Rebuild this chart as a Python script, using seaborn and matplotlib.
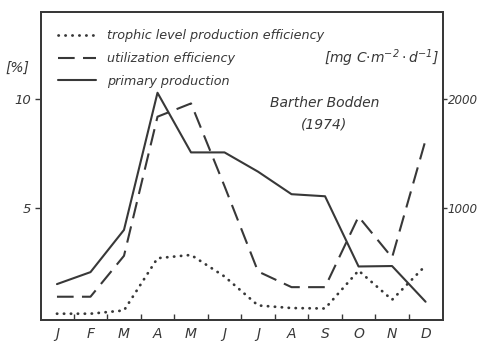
import matplotlib
matplotlib.use("Agg")
import matplotlib.pyplot as plt
import seaborn as sns
import numpy as np
import pandas as pd

months = ["J", "F", "M", "A", "M", "J", "J", "A", "S", "O", "N", "D"]
trophic_eff = [0.14, 0.14, 0.29, 2.69, 2.84, 1.85, 0.52, 0.40, 0.38, 2.12, 0.78, 2.35]
utilization_eff = [0.92, 0.92, 2.80, 9.19, 9.80, 6.0, 2.08, 1.36, 1.36, 4.60, 2.72, 8.12]
primary_prod = [300, 410, 798, 2058, 1510, 1510, 1333, 1126, 1107, 462, 466, 138]

sns.set_style("ticks")
plt.rcParams["font.family"] = ["DejaVu Sans"]
plt.rcParams["font.style"] = "italic"

ink = "#383838"
fig = plt.figure(figsize=(4.81, 3.43), dpi=100)
ax = fig.add_axes([0.085, 0.067, 0.836, 0.898])
ax2 = ax.twinx()

x = np.arange(len(months))
df = pd.DataFrame({"x": x, "trophic": trophic_eff, "util": utilization_eff,
                   "prod": primary_prod})

sns.lineplot(data=df, x="x", y="trophic", ax=ax, color=ink, lw=2.0,
             linestyle=(0, (0.1, 2.4)), dash_capstyle="round",
             label="trophic level production efficiency", legend=False)
sns.lineplot(data=df, x="x", y="util", ax=ax, color=ink, lw=1.5,
             linestyle=(0, (8, 4)), label="utilization efficiency", legend=False)
sns.lineplot(data=df, x="x", y="prod", ax=ax2, color=ink, lw=1.5,
             label="primary production", legend=False)

ylo, yhi = -0.15, 14.0
ax.set_ylim(ylo, yhi)
ax2.set_ylim(ylo * 200, yhi * 200)
ax.set_xlim(-0.48, 11.52)

for a in (ax, ax2):
    for s in a.spines.values():
        s.set_color(ink)
        s.set_linewidth(1.3)
        s.set_visible(True)

ax.set_yticks([5, 10])
ax.set_yticklabels(["5", "10"])
ax2.set_yticks([1000, 2000])
ax2.set_yticklabels(["1000", "2000"])
ax.tick_params(axis="y", direction="out", length=4, width=1, colors=ink,
               labelsize=9.5, pad=3)
ax2.tick_params(axis="y", direction="out", length=3, width=1, colors=ink,
                labelsize=8.6, pad=0.5)

ax.set_xticks(x)
ax.set_xticklabels(months)
ax.set_xticks(np.arange(0.5, 11, 1), minor=True)
ax.tick_params(axis="x", which="major", length=0, labelsize=10, colors=ink, pad=5)
ax.tick_params(axis="x", which="minor", direction="in", length=4, width=1, colors=ink)
for lab in ax.get_xticklabels() + ax.get_yticklabels() + ax2.get_yticklabels():
    lab.set_fontstyle("italic")
ax.set_xlabel("")
ax.set_ylabel("")
ax2.set_xlabel("")
ax2.set_ylabel("")

h1, l1 = ax.get_legend_handles_labels()
h2, l2 = ax2.get_legend_handles_labels()
leg = ax.legend(h1 + h2, l1 + l2, loc="upper left", bbox_to_anchor=(0.03, 0.96),
                frameon=False, fontsize=9.2, handlelength=3.0, handletextpad=0.8,
                labelspacing=0.75, borderaxespad=0)
for t in leg.get_texts():
    t.set_fontstyle("italic")
    t.set_color(ink)

fig.text(0.012, 0.79, "[%]", fontsize=10, style="italic", color=ink)
ax.text(0.99, 0.835, r"[mg C$\cdot$m$^{-2}\cdot$d$^{-1}$]", transform=ax.transAxes,
        ha="right", fontsize=10, style="italic", color=ink)
ax.text(0.705, 0.669, "Barther Bodden\n(1974)", transform=ax.transAxes,
        ha="center", va="center", fontsize=10, style="italic", color=ink,
        linespacing=1.7)

fig.savefig("out.png", dpi=100, facecolor="white")
